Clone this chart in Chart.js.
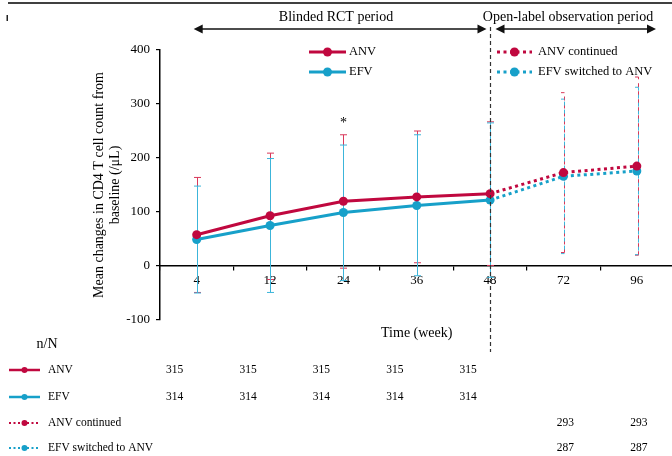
<!DOCTYPE html>
<html><head><meta charset="utf-8">
<script src="https://cdn.jsdelivr.net/npm/chart.js@4.4.1/dist/chart.umd.min.js"></script>
<style>html,body{margin:0;padding:0;background:#fff;overflow:hidden}#wrap{width:672px;height:456px;position:relative;overflow:hidden}#c{display:block}</style>
</head><body><div id="wrap"><canvas id="c" width="678" height="456"></canvas></div>
<script>
// ---- data ----
const weeks = ['4', '12', '24', '36', '48', '72', '96'];
const yTicks = [-100, 0, 100, 200, 300, 400];
const anvMean = [58, 93, 120, 128, 134, null, null];
const efvMean = [49, 75, 99, 112, 122, null, null];
const anvContMean = [null, null, null, null, 134, 173, 185];
const efvSwMean = [null, null, null, null, 122, 166, 176];
const anvUpper = [164, 209, 243, 250, 267, 321, 350];
const anvLower = [-49, -25, -4, 6, 1, 25, 20];
const efvUpper = [148, 199, 224, 243, 265, 309, 331];
const efvLower = [-50, -49, -27, -18, -21, 23, 21];
const nANV = [315, 315, 315, 315, 315, null, null];
const nEFV = [314, 314, 314, 314, 314, null, null];
const nANVc = [null, null, null, null, null, 293, 293];
const nEFVs = [null, null, null, null, null, 287, 287];
const seriesLabels = ['ANV', 'EFV', 'ANV continued', 'EFV switched to ANV'];
const periodLabels = ['Blinded RCT period', 'Open-label observation period'];

const RED = '#C0083F', CYAN = '#17A0C9';
const RED_E = '#D9385A', CYAN_E = '#3CB5DA';
const SERIF = "'Liberation Serif', 'DejaVu Serif', serif";

const annot = {
  id: 'annot',
  beforeDatasetsDraw(chart) {
    const {ctx, scales: {x, y}} = chart;
    ctx.save();
    ctx.lineWidth = 1;
    const cw = 3.5;
    function bar(px, lo, hi, color, open, dashOff) {
      const yl = y.getPixelForValue(lo), yh = y.getPixelForValue(hi);
      ctx.strokeStyle = color;
      if (open) { ctx.setLineDash([4, 4]); ctx.lineDashOffset = dashOff; }
      else ctx.setLineDash([]);
      ctx.beginPath(); ctx.moveTo(px, yl); ctx.lineTo(px, yh); ctx.stroke();
      ctx.setLineDash([]);
      ctx.beginPath();
      if (open) {
        ctx.moveTo(px - cw, yl); ctx.lineTo(px, yl);
        ctx.moveTo(px - cw, yh); ctx.lineTo(px, yh);
      } else {
        ctx.moveTo(px - cw, yl); ctx.lineTo(px + cw, yl);
        ctx.moveTo(px - cw, yh); ctx.lineTo(px + cw, yh);
      }
      ctx.stroke();
    }
    for (let i = 0; i < weeks.length; i++) {
      const open = i >= 5;
      const px = Math.round(x.getPixelForValue(i)) + (open ? 1.5 : 0.5);
      bar(px, anvLower[i], anvUpper[i], RED_E, open, 0);
      bar(px, efvLower[i], efvUpper[i], CYAN_E, open, 4);
    }
    ctx.restore();
  },
  afterDraw(chart) {
    const {ctx, scales: {x, y}} = chart;
    ctx.save();
    // top rule and fragment
    ctx.strokeStyle = '#000'; ctx.lineWidth = 1.5;
    ctx.beginPath(); ctx.moveTo(8, 3); ctx.lineTo(672, 3); ctx.stroke();
    ctx.fillStyle = '#222'; ctx.fillRect(6.5, 15, 1.5, 6);

    // dashed separator line at week 48
    const xs = Math.round(x.getPixelForValue(4)) + 0.5;
    ctx.strokeStyle = '#333'; ctx.lineWidth = 1.2; ctx.setLineDash([4, 3]);
    ctx.beginPath(); ctx.moveTo(xs, 27); ctx.lineTo(xs, 352); ctx.stroke();
    ctx.setLineDash([]);

    // arrows
    function arrow(x1, x2, yy) {
      ctx.strokeStyle = '#111'; ctx.fillStyle = '#111'; ctx.lineWidth = 1.5;
      ctx.beginPath(); ctx.moveTo(x1 + 6, yy); ctx.lineTo(x2 - 6, yy); ctx.stroke();
      ctx.beginPath(); ctx.moveTo(x1, yy); ctx.lineTo(x1 + 9, yy - 4.5); ctx.lineTo(x1 + 9, yy + 4.5); ctx.closePath(); ctx.fill();
      ctx.beginPath(); ctx.moveTo(x2, yy); ctx.lineTo(x2 - 9, yy - 4.5); ctx.lineTo(x2 - 9, yy + 4.5); ctx.closePath(); ctx.fill();
    }
    arrow(x.getPixelForValue(0) - 3, xs - 4, 29);
    arrow(xs + 5, 656, 29);
    ctx.fillStyle = '#000';
    ctx.font = '14px ' + SERIF; ctx.textAlign = 'center'; ctx.textBaseline = 'middle';
    ctx.fillText(periodLabels[0], 336, 17);
    ctx.fillText(periodLabels[1], 568, 17);

    // asterisk
    ctx.font = '14px ' + SERIF;
    ctx.fillText('*', x.getPixelForValue(2), y.getPixelForValue(anvUpper[2]) - 11);

    // legend samples
    function sample(x1, x2, yy, color, dotted, lw, r) {
      ctx.strokeStyle = color; ctx.fillStyle = color; ctx.lineWidth = lw;
      if (dotted) ctx.setLineDash([lw, lw + 0.5]); else ctx.setLineDash([]);
      ctx.beginPath(); ctx.moveTo(x1, yy); ctx.lineTo(x2, yy); ctx.stroke();
      ctx.setLineDash([]);
      ctx.beginPath(); ctx.arc((x1 + x2) / 2, yy, r, 0, Math.PI * 2); ctx.fill();
    }
    const legRows = [52, 72];
    ctx.textAlign = 'left';
    ctx.font = '12.5px ' + SERIF;
    sample(309, 346, legRows[0], RED, false, 3, 4.5);
    sample(309, 346, legRows[1], CYAN, false, 3, 4.5);
    sample(497, 532, legRows[0], RED, true, 3, 4.5);
    sample(497, 532, legRows[1], CYAN, true, 3, 4.5);
    ctx.fillStyle = '#000';
    ctx.fillText(seriesLabels[0], 349, legRows[0]);
    ctx.fillText(seriesLabels[1], 349, legRows[1]);
    ctx.fillText(seriesLabels[2], 538, legRows[0]);
    ctx.fillText(seriesLabels[3], 538, legRows[1]);

    // n/N table
    ctx.font = '14px ' + SERIF; ctx.textAlign = 'center';
    ctx.fillText('n/N', 47, 344);
    const rows = [370, 397, 423, 448];
    const cols = [RED, CYAN, RED, CYAN];
    const nData = [nANV, nEFV, nANVc, nEFVs];
    for (let r = 0; r < 4; r++) {
      sample(9, 40, rows[r], cols[r], r >= 2, r >= 2 ? 2 : 2.5, 3);
      ctx.fillStyle = '#000';
      ctx.font = '11.5px ' + SERIF; ctx.textAlign = 'left';
      ctx.fillText(seriesLabels[r], 48, rows[r]);
      ctx.textAlign = 'center';
      for (let i = 0; i < weeks.length; i++) {
        const v = nData[r][i];
        if (v == null) continue;
        const px = x.getPixelForValue(i) + (i < 5 ? -22 : 2);
        ctx.fillText(String(v), px, rows[r]);
      }
    }
    ctx.restore();
  }
};

new Chart(document.getElementById('c'), {
  type: 'line',
  data: {
    labels: weeks,
    datasets: [
      {label: seriesLabels[0], data: anvMean, borderColor: RED, backgroundColor: RED, borderWidth: 3, pointRadius: 4.5, pointBackgroundColor: RED, pointBorderWidth: 0, tension: 0},
      {label: seriesLabels[1], data: efvMean, borderColor: CYAN, backgroundColor: CYAN, borderWidth: 3, pointRadius: 4.5, pointBackgroundColor: CYAN, pointBorderWidth: 0, tension: 0},
      {label: seriesLabels[2], data: anvContMean, borderColor: RED, backgroundColor: RED, borderWidth: 3, borderDash: [3, 3.5], pointRadius: [0, 0, 0, 0, 0, 4.5, 4.5], pointBackgroundColor: RED, pointBorderWidth: 0, tension: 0},
      {label: seriesLabels[3], data: efvSwMean, borderColor: CYAN, backgroundColor: CYAN, borderWidth: 3, borderDash: [3, 3.5], pointRadius: [0, 0, 0, 0, 0, 4.5, 4.5], pointBackgroundColor: CYAN, pointBorderWidth: 0, tension: 0}
    ]
  },
  options: {
    responsive: false,
    animation: false,
    layout: {padding: {top: 50, bottom: 136, left: 0, right: 0}},
    plugins: {legend: {display: false}, tooltip: {enabled: false}},
    scales: {
      x: {
        type: 'category', offset: true, position: {y: 0},
        grid: {display: true, drawOnChartArea: false, drawTicks: true, tickLength: 4, offset: true, color: '#000', lineWidth: 1.2},
        border: {display: true, color: '#000', width: 1.5},
        ticks: {color: '#000', font: {family: SERIF, size: 13}, padding: 3, maxRotation: 0, autoSkip: false},
        title: {display: true, text: 'Time (week)', color: '#000', font: {family: SERIF, size: 14, lineHeight: 1.2}, padding: {top: 33, bottom: 0}}
      },
      y: {
        min: -100, max: 400,
        afterBuildTicks(s) { s.ticks = yTicks.map(v => ({value: v})); },
        afterFit(s) { s.width = 160; },
        grid: {display: true, drawOnChartArea: false, drawTicks: true, tickLength: 4, color: '#000', lineWidth: 1.2},
        border: {display: true, color: '#000', width: 1.5},
        ticks: {color: '#000', font: {family: SERIF, size: 13}, padding: 6},
        title: {display: true, text: ['Mean changes in CD4 T cell count from', 'baseline (/\u03bcL)'], color: '#000', font: {family: SERIF, size: 14, lineHeight: 1.1}, padding: {top: 92, bottom: 0}}
      }
    }
  },
  plugins: [annot]
});
</script>
</body></html>
